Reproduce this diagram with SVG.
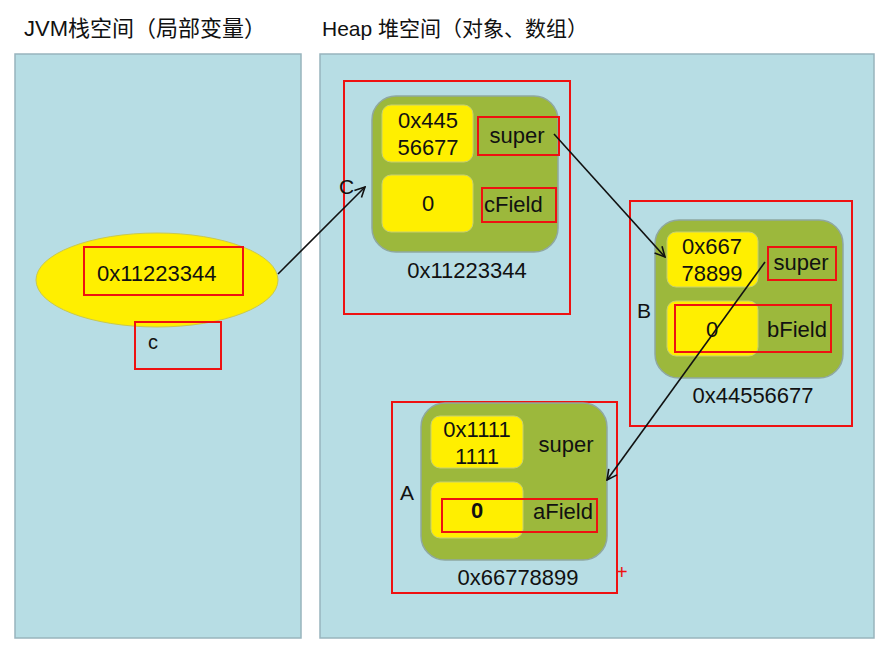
<svg xmlns="http://www.w3.org/2000/svg" width="889" height="656" viewBox="0 0 889 656">
<defs>
<style>
.t{font-family:"Liberation Sans",Arial,"Noto Sans CJK SC",sans-serif;fill:#111;}
.v{font-size:22px;}
.panel{fill:#b7dde4;stroke:#98b4bd;stroke-width:1.5;}
.obj{fill:#9cb83c;stroke:#8fa8a0;stroke-width:1.5;}
.yel{fill:#ffef00;stroke:#c8d070;stroke-width:1;}
.red{fill:none;stroke:#ee1111;stroke-width:2;}
.con{fill:none;stroke:#111;stroke-width:1.6;marker-end:url(#arr);}
</style>
<marker id="arr" viewBox="0 0 12 12" refX="11" refY="6" markerWidth="12" markerHeight="12" markerUnits="userSpaceOnUse" orient="auto">
<path d="M1,1 L11,6 L1,11" fill="none" stroke="#111" stroke-width="1.6"/>
</marker>
</defs>
<rect width="889" height="656" fill="#ffffff"/>
<text class="t" x="24" y="36" font-size="22">JVM栈空间（局部变量）</text>
<text class="t" x="322" y="36" font-size="21">Heap 堆空间（对象、数组）</text>
<g id="stack-panel"><rect class="panel" x="15" y="54" width="286" height="584"/></g>
<g id="heap-panel"><rect class="panel" x="320" y="54" width="554" height="584"/></g>

<g id="var-c">
<ellipse cx="157" cy="280" rx="121" ry="47" fill="#ffef00" stroke="#c8c850" stroke-width="1"/>
<rect class="red" x="84" y="247" width="159" height="48"/>
<text class="t v" x="97" y="281">0x11223344</text>
<rect class="red" x="135" y="322" width="86" height="47"/>
<text class="t" x="148" y="349" font-size="20">c</text>
</g>

<g id="obj-C">
<rect class="red" x="344" y="81" width="226" height="233"/>
<rect class="obj" x="372" y="96" width="186" height="156" rx="24"/>
<rect class="yel" x="382" y="105" width="91" height="57" rx="9"/>
<rect class="yel" x="382" y="175" width="91" height="57" rx="9"/>
<text class="t v" x="428" y="128" text-anchor="middle">0x445</text>
<text class="t v" x="428" y="155" text-anchor="middle">56677</text>
<text class="t v" x="428" y="211" text-anchor="middle">0</text>
<rect class="red" x="478" y="117" width="81" height="38"/>
<text class="t v" x="517" y="143" text-anchor="middle">super</text>
<rect class="red" x="482" y="188" width="74" height="34"/>
<text class="t v" x="484" y="212">cField</text>
<text class="t v" x="467" y="278" text-anchor="middle">0x11223344</text>
<text class="t" x="339" y="194" font-size="21">C</text>
</g>

<g id="obj-B">
<rect class="red" x="630" y="201" width="222" height="225"/>
<rect class="obj" x="655" y="220" width="188" height="158" rx="24"/>
<rect class="yel" x="667" y="232" width="91" height="55" rx="9"/>
<rect class="yel" x="667" y="301" width="91" height="55" rx="9"/>
<text class="t v" x="712" y="254" text-anchor="middle">0x667</text>
<text class="t v" x="712" y="281" text-anchor="middle">78899</text>
<text class="t v" x="712" y="337" text-anchor="middle">0</text>
<rect class="red" x="768" y="247" width="68" height="33"/>
<text class="t v" x="801" y="270" text-anchor="middle">super</text>
<rect class="red" x="675" y="305" width="156" height="47"/>
<text class="t v" x="767" y="337">bField</text>
<text class="t v" x="753" y="403" text-anchor="middle">0x44556677</text>
<text class="t" x="637" y="318" font-size="21">B</text>
</g>

<g id="obj-A">
<rect class="red" x="392" y="402" width="225" height="191"/>
<rect class="obj" x="421" y="403" width="186" height="157" rx="24"/>
<rect class="yel" x="431" y="416" width="92" height="52" rx="9"/>
<rect class="yel" x="431" y="482" width="92" height="56" rx="9"/>
<text class="t v" x="477" y="437" text-anchor="middle">0x1111</text>
<text class="t v" x="477" y="464" text-anchor="middle">1111</text>
<text class="t v" x="477" y="518" text-anchor="middle" font-weight="bold">0</text>
<text class="t v" x="566" y="452" text-anchor="middle">super</text>
<rect class="red" x="442" y="499" width="155" height="33"/>
<text class="t v" x="533" y="519">aField</text>
<text class="t v" x="518" y="585" text-anchor="middle">0x66778899</text>
<text class="t" x="400" y="500" font-size="21">A</text>
<text x="616" y="579" font-family="Liberation Sans,sans-serif" font-size="20" fill="#ee1111">+</text>
</g>

<g id="connectors">
<line class="con" x1="278" y1="274" x2="365" y2="187"/>
<line class="con" x1="554" y1="134" x2="665" y2="257"/>
<line class="con" x1="765" y1="262" x2="607" y2="480"/>
</g>
</svg>
